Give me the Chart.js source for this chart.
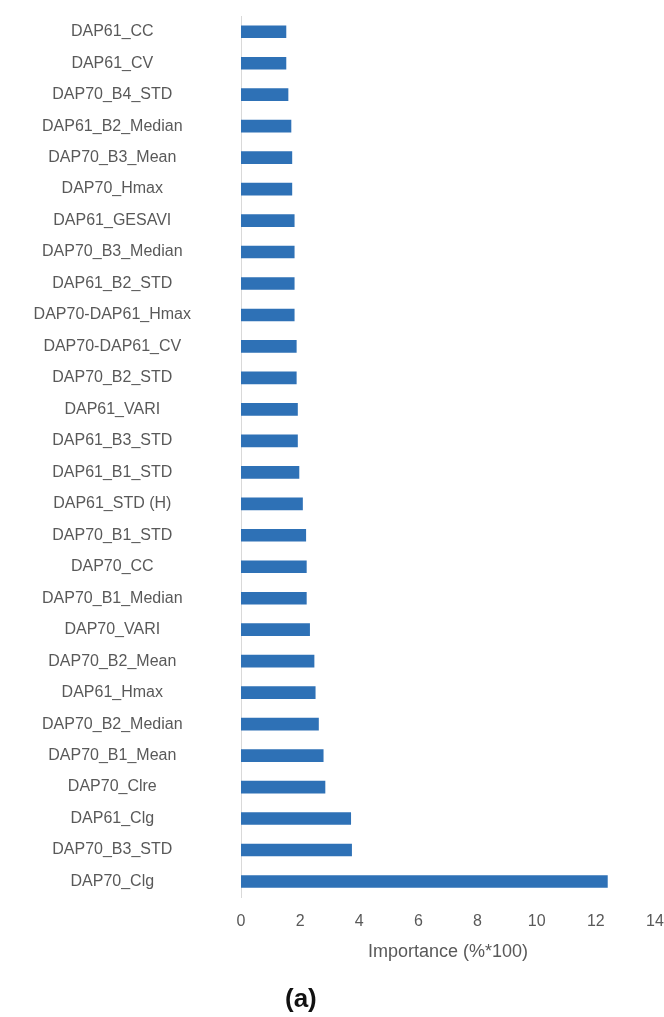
<!DOCTYPE html>
<html>
<head>
<meta charset="utf-8">
<title>Importance</title>
<script src="https://cdn.jsdelivr.net/npm/chart.js@4.4.1/dist/chart.umd.min.js"></script>
<style>
  html, body { margin: 0; padding: 0; background: #fff; }
  #wrap { position: relative; width: 664px; height: 1017px; }
  #panel {
    position: absolute; left: 285px; top: 983px;
    font: bold 26px "Liberation Sans", Arial, sans-serif; color: #111;
  }
</style>
</head>
<body>
<div id="wrap">
  <canvas id="importanceChart" width="664" height="1017"></canvas>
  <div id="panel">(a)</div>
</div>
<script>
// Variable names, top to bottom
const features = [
    'DAP61_CC', 'DAP61_CV', 'DAP70_B4_STD', 'DAP61_B2_Median', 'DAP70_B3_Mean',
    'DAP70_Hmax', 'DAP61_GESAVI', 'DAP70_B3_Median', 'DAP61_B2_STD', 'DAP70-DAP61_Hmax',
    'DAP70-DAP61_CV', 'DAP70_B2_STD', 'DAP61_VARI', 'DAP61_B3_STD', 'DAP61_B1_STD',
    'DAP61_STD (H)', 'DAP70_B1_STD', 'DAP70_CC', 'DAP70_B1_Median', 'DAP70_VARI',
    'DAP70_B2_Mean', 'DAP61_Hmax', 'DAP70_B2_Median', 'DAP70_B1_Mean', 'DAP70_Clre',
    'DAP61_Clg', 'DAP70_B3_STD', 'DAP70_Clg'
];

// Importance values (%*100)
const importance = [
    1.52, 1.52, 1.59, 1.69, 1.72,
    1.72, 1.80, 1.80, 1.80, 1.80,
    1.87, 1.87, 1.91, 1.91, 1.96,
    2.08, 2.19, 2.21, 2.21, 2.32,
    2.47, 2.51, 2.62, 2.78, 2.84,
    3.71, 3.74, 12.39
];

const xTicks = [0, 2, 4, 6, 8, 10, 12, 14];

const textGray = '#595959';
const font = 'Liberation Sans';

const ctx = document.getElementById('importanceChart').getContext('2d');
new Chart(ctx, {
    type: 'bar',
    data: {
        labels: features,
        datasets: [{
            label: 'Importance',
            data: importance,
            backgroundColor: '#2e71b6',
            borderWidth: 0,
            barThickness: 12
        }]
    },
    options: {
        indexAxis: 'y',
        responsive: false,
        animation: false,
        layout: { padding: { top: 16, right: 9, bottom: 54, left: 0 } },
        scales: {
            x: {
                min: xTicks[0],
                max: xTicks[xTicks.length - 1],
                afterBuildTicks: scale => {
                    scale.ticks = xTicks.map(v => ({ value: v }));
                },
                afterFit: scale => {
                    scale.paddingLeft = 0;
                    scale.paddingRight = 0;
                },
                grid: { display: false, drawTicks: false },
                border: { display: false },
                ticks: {
                    color: textGray,
                    padding: 15,
                    maxRotation: 0,
                    font: { family: font, size: 16 }
                },
                title: {
                    display: true,
                    text: 'Importance (%*100)',
                    color: textGray,
                    padding: { top: -5, bottom: 0 },
                    font: { family: font, size: 18 }
                }
            },
            y: {
                // fixed label column; labels centred inside it
                afterFit: scale => {
                    scale.width = 241;
                    scale.paddingTop = 0;
                    scale.paddingBottom = 0;
                },
                grid: { display: false, drawTicks: false },
                border: { display: true, color: '#d9d9d9', width: 1 },
                ticks: {
                    color: textGray,
                    crossAlign: 'center',
                    padding: 50,
                    autoSkip: false,
                    font: { family: font, size: 16 }
                }
            }
        },
        plugins: {
            legend: { display: false },
            tooltip: { enabled: false }
        }
    }
});
</script>
</body>
</html>
